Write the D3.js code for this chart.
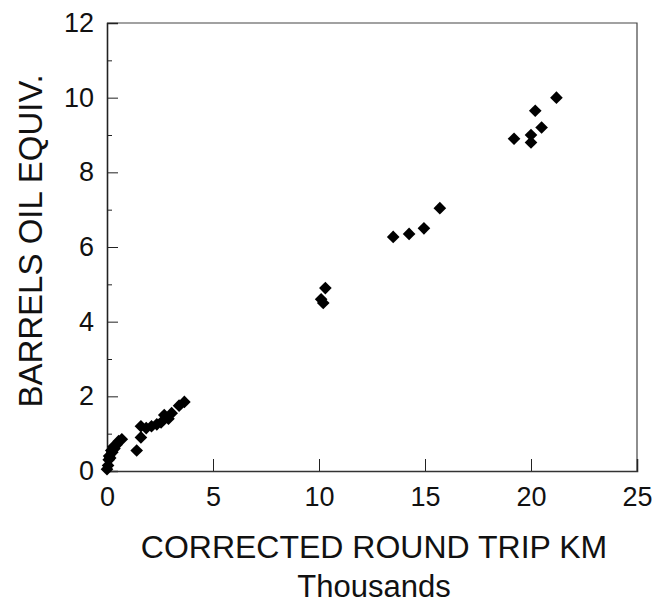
<!DOCTYPE html>
<html><head><meta charset="utf-8">
<script src="https://cdn.jsdelivr.net/npm/d3@7"></script>
<style>body{margin:0;background:#fff}svg{display:block}text{font-family:"Liberation Sans",Arial,sans-serif;fill:#111}</style>
</head><body>
<script>
const kmThousands = [0.0,0.05,0.08,0.1,0.15,0.2,0.25,0.3,0.35,0.45,0.55,0.7,1.4,1.6,1.6,1.85,2.1,2.35,2.55,2.7,2.9,3.05,3.4,3.65,10.1,10.2,10.3,13.5,14.25,14.95,15.7,19.2,20.0,20.0,20.2,20.5,21.2];
const barrels    = [0.05,0.15,0.3,0.4,0.35,0.55,0.5,0.65,0.6,0.7,0.8,0.85,0.55,0.9,1.2,1.15,1.2,1.25,1.3,1.5,1.4,1.55,1.75,1.85,4.6,4.5,4.9,6.27,6.35,6.5,7.04,8.9,9.0,8.8,9.65,9.2,10.0];
const xTicks = [0,5,10,15,20,25];
const yTicks = [0,2,4,6,8,10,12];
const yMinor = [1,3,5,7,9,11];

const W=652,H=605, L=107, R=637, T=23, B=471;
const svg=d3.select("body").append("svg").attr("width",W).attr("height",H);
const x=d3.scaleLinear().domain([0,25]).range([L,R]);
const y=d3.scaleLinear().domain([0,12]).range([B,T]);

// frame (top & right)
svg.append("path").attr("d",`M${L},${T}H${R}V${B}`).attr("fill","none").attr("stroke","#444").attr("stroke-width",1.2);

// y axis
const ya=svg.append("g").attr("transform",`translate(${L},0)`).call(d3.axisLeft(y).tickValues(yTicks).tickSize(-11).tickPadding(13).tickFormat(d3.format("d")));
ya.select(".domain").attr("stroke","#222").attr("stroke-width",1.6);
ya.selectAll(".tick line").attr("stroke","#222");
ya.selectAll(".tick text").attr("font-size",27).attr("font-family","Liberation Sans, Arial, sans-serif").attr("fill","#111");
svg.append("g").attr("transform",`translate(${L},0)`).call(d3.axisLeft(y).tickValues(yMinor).tickSize(-5).tickFormat(""))
  .call(g=>{g.select(".domain").remove();g.selectAll(".tick line").attr("stroke","#222");});

// x axis
const xa=svg.append("g").attr("transform",`translate(0,${B})`).call(d3.axisBottom(x).tickValues(xTicks).tickSize(-12).tickPadding(16).tickFormat(d3.format("d")));
xa.select(".domain").attr("stroke","#333").attr("stroke-width",1.6);
xa.selectAll(".tick line").attr("stroke","#222");
xa.selectAll(".tick text").attr("font-size",27).attr("font-family","Liberation Sans, Arial, sans-serif").attr("fill","#111");

// points
const pts=kmThousands.map((v,i)=>({x:v,y:barrels[i]}));
svg.append("g").selectAll("path").data(pts).join("path")
  .attr("d",d3.symbol(d3.symbolSquare,80))
  .attr("transform",d=>`translate(${x(d.x)},${y(d.y)}) rotate(45)`)
  .attr("fill","#000");

// titles
svg.append("text").attr("x",(L+R)/2+2).attr("y",558).attr("text-anchor","middle").attr("font-size",32).text("CORRECTED ROUND TRIP KM");
svg.append("text").attr("x",(L+R)/2+2).attr("y",597).attr("text-anchor","middle").attr("font-size",31).text("Thousands");
svg.append("text").attr("transform",`translate(42,${(T+B)/2-6}) rotate(-90)`).attr("text-anchor","middle").attr("font-size",33).text("BARRELS OIL EQUIV.");
</script>
</body></html>
